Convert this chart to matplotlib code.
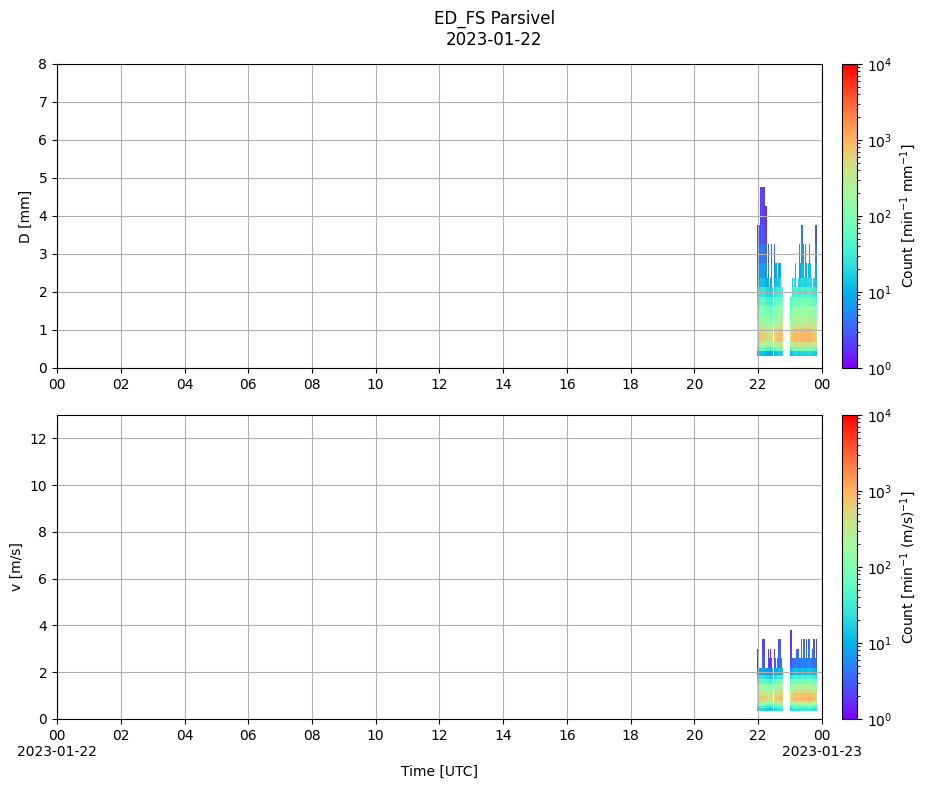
import numpy as np
import matplotlib.pyplot as plt
import matplotlib.dates as mdates
from matplotlib.colors import LogNorm
from matplotlib.ticker import FuncFormatter, MultipleLocator

# Parsivel class centres (used as mesh edges, flat shading)
d_centers = [0.062, 0.187, 0.312, 0.437, 0.562, 0.687, 0.812, 0.937, 1.062, 1.187,
             1.375, 1.625, 1.875, 2.125, 2.375, 2.75, 3.25, 3.75, 4.25, 4.75,
             5.5, 6.5, 7.5, 8.5, 9.5, 11.0, 13.0, 15.0, 17.0, 19.0, 21.5, 24.5]
v_centers = [0.05, 0.15, 0.25, 0.35, 0.45, 0.55, 0.65, 0.75, 0.85, 0.95,
             1.1, 1.3, 1.5, 1.7, 1.9, 2.2, 2.6, 3.0, 3.4, 3.8,
             4.4, 5.2, 6.0, 6.8, 7.6, 8.8, 10.4, 12.0, 13.6, 15.2, 17.6, 20.8]

# typical spectrum per class (count per min per unit), read from the colours
d_profile = [0, 0, 12, 60, 250, 600, 600, 400, 250, 150, 100, 50, 25, 12, 7, 4, 2.5, 2, 2]
v_profile = [0, 0, 0, 20, 40, 100, 200, 500, 600, 500, 300, 150, 60, 25, 8, 3, 2.5, 2, 2]

# 2-minute columns starting 2023-01-22 21:56
t_start = np.datetime64('2023-01-22T21:56')
col_minutes = 2

# top edge of the filled spectrum for each column (0 = no data)
d_top = [0,
         3.75, 3.75, 3.75,
         4.75, 4.75, 4.75, 4.75,
         4.25, 4.25,
         2.375, 3.25, 2.125, 2.375, 3.25, 2.125, 0, 3.25,
         2.75, 2.75, 2.375, 2.75, 2.75, 2.125, 2.125,
         0, 0, 0, 0, 0, 0, 0,
         1.875, 1.875, 2.375, 2.125, 2.375, 2.75, 2.125, 2.375,
         3.25, 2.75, 3.75, 3.75, 3.25, 2.375, 3.25,
         2.75, 2.375, 2.75, 3.25, 2.75, 2.375, 2.125, 2.375, 3.75, 3.75]
v_top = [0,
         3.0, 3.0, 2.2, 2.2, 2.2, 3.4, 3.4, 2.2, 2.2, 2.2,
         3.0, 2.6, 3.0, 2.6, 2.2, 0, 3.0, 2.6, 2.2, 2.6, 3.4, 3.4, 2.6, 2.2,
         0, 0, 0, 0, 0, 0, 0,
         3.8, 3.8, 2.6, 2.6, 2.6, 2.6, 3.0, 3.0, 2.6, 2.6,
         3.4, 2.6, 3.4, 3.4, 2.6, 3.4, 2.6, 3.4, 3.4, 2.6, 2.6, 3.0, 3.4, 2.6, 3.4]
intensity = [0,
             0.6, 0.8, 0.9,
             1.0, 1.2, 1.1, 1.0, 0.9, 0.8,
             0.7, 0.8, 0.7, 0.6, 0.7, 0.8, 0,
             0.9, 1.0, 1.1, 1.2, 1.3, 1.4, 1.5, 1.3,
             0, 0, 0, 0, 0, 0, 0,
             0.8, 1.0, 1.2, 1.4, 1.5, 1.6, 1.5, 1.4, 1.3, 1.5, 1.6, 1.7, 1.6,
             1.5, 1.4, 1.5, 1.6, 1.7, 1.8, 1.6, 1.5, 1.4, 1.3, 1.2, 1.0]


def build(centers, profile, tops):
    ncell = len(centers) - 1
    C = np.zeros((ncell, len(tops)))
    for i, top in enumerate(tops):
        if top == 0 or intensity[i] == 0:
            continue
        last = centers.index(top) - 1
        for j in range(last + 1):
            if j < len(profile):
                C[j, i] = profile[j] * intensity[i]
    return np.ma.masked_less_equal(C, 0)


t_edges = t_start + np.arange(len(intensity) + 1) * np.timedelta64(col_minutes, 'm')
C_d = build(d_centers, d_profile, d_top)
C_v = build(v_centers, v_profile, v_top)

fig = plt.figure(figsize=(9.27, 7.88), dpi=100)
ax1 = fig.add_axes([0.0615, 0.533, 0.8252, 0.3858])
ax2 = fig.add_axes([0.0615, 0.0876, 0.8252, 0.3858])
cax1 = fig.add_axes([0.9083, 0.533, 0.0162, 0.3858])
cax2 = fig.add_axes([0.9083, 0.0876, 0.0162, 0.3858])

norm = LogNorm(vmin=1, vmax=1e4)
m1 = ax1.pcolormesh(t_edges, d_centers, C_d, cmap='rainbow', norm=norm, shading='flat')
m2 = ax2.pcolormesh(t_edges, v_centers, C_v, cmap='rainbow', norm=norm, shading='flat')

fig.colorbar(m1, cax=cax1, label='Count [min$^{-1}$ mm$^{-1}$]')
fig.colorbar(m2, cax=cax2, label='Count [min$^{-1}$ (m/s)$^{-1}$]')

x0 = np.datetime64('2023-01-22T00:00')
x1 = np.datetime64('2023-01-23T00:00')


def hour_fmt(x, pos):
    return mdates.num2date(x).strftime('%H')


def hour_date_fmt(x, pos):
    d = mdates.num2date(x)
    if d.hour == 0:
        return d.strftime('%H\n%Y-%m-%d')
    return d.strftime('%H')


for ax in (ax1, ax2):
    ax.set_xlim(x0, x1)
    ax.xaxis.set_major_locator(mdates.HourLocator(byhour=range(0, 24, 2)))
    ax.grid(True)

ax1.xaxis.set_major_formatter(FuncFormatter(hour_fmt))
ax2.xaxis.set_major_formatter(FuncFormatter(hour_date_fmt))

ax1.set_ylim(0, 8)
ax1.yaxis.set_major_locator(MultipleLocator(1))
ax1.set_ylabel('D [mm]')

ax2.set_ylim(0, 13)
ax2.yaxis.set_major_locator(MultipleLocator(2))
ax2.set_ylabel('v [m/s]')
ax2.set_xlabel('Time [UTC]')

fig.suptitle('ED_FS Parsivel\n2023-01-22', x=0.533, y=0.988, va='top')

fig.savefig('out.png', dpi=100)
